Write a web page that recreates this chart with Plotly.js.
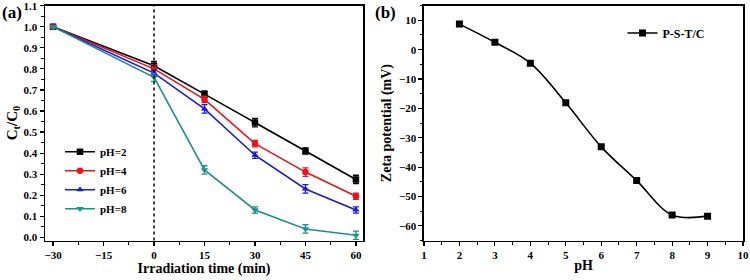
<!DOCTYPE html>
<html><head><meta charset="utf-8">
<script src="https://cdn.plot.ly/plotly-3.0.1.min.js"></script>
<style>html,body{margin:0;padding:0;background:#fff}#g{width:750px;height:280px}</style>
</head><body><div id="g"></div>
<script>
// Panel (a): photocatalytic degradation
const timeMin = [-30, 0, 15, 30, 45, 60];
const pH2 = [1.0, 0.815, 0.68, 0.545, 0.41, 0.275];
const pH4 = [1.0, 0.80, 0.655, 0.445, 0.31, 0.195];
const pH6 = [1.0, 0.78, 0.61, 0.39, 0.23, 0.13];
const pH8 = [1.0, 0.76, 0.32, 0.13, 0.04, 0.01];
const err2 = [0.005, 0.02, 0.015, 0.02, 0.015, 0.02];
const err4 = [0.005, 0.02, 0.015, 0.015, 0.02, 0.015];
const err6 = [0.005, 0.015, 0.02, 0.015, 0.02, 0.015];
const err8 = [0.005, 0.02, 0.02, 0.015, 0.02, 0.02];
const seriesNames = ["pH=2", "pH=4", "pH=6", "pH=8"];
const ctTicks = [0, 0.1, 0.2, 0.3, 0.4, 0.5, 0.6, 0.7, 0.8, 0.9, 1.0, 1.1];
const timeTicks = [-30, -15, 0, 15, 30, 45, 60];
// Panel (b): zeta potential
const pHvals = [2, 3, 4, 5, 6, 7, 8, 9];
const zeta = [8.7, 2.5, -4.6, -18.1, -33.1, -44.6, -56.3, -56.7];
const zetaName = "P-S-T/C";
const zetaTicks = [-60, -50, -40, -30, -20, -10, 0, 10];

const FONT = "Liberation Serif, Times New Roman, serif";
const colors = ["#000000", "#e8141c", "#1a1ad0", "#1f8f8c"];
const symbols = ["square", "circle", "triangle-up", "triangle-down"];
const ys = [pH2, pH4, pH6, pH8];
const errs = [err2, err4, err6, err8];

const traces = ys.map((y, i) => ({
  x: timeMin, y: y, name: seriesNames[i], type: "scatter", mode: "lines+markers",
  line: {color: colors[i], width: 1.6},
  marker: {symbol: symbols[i], size: 6.5, color: colors[i]},
  error_y: {type: "data", array: errs[i], visible: true, color: colors[i], thickness: 1.3, width: 3},
  xaxis: "x", yaxis: "y", legend: "legend"
}));
traces.push({
  x: pHvals, y: zeta, name: zetaName, type: "scatter", mode: "lines+markers",
  line: {color: "#000", width: 1.6, shape: "spline", smoothing: 1},
  marker: {symbol: "square", size: 7, color: "#000"},
  xaxis: "x2", yaxis: "y2", legend: "legend2"
});

const tickFont = {family: FONT, size: 11, color: "#000", weight: "bold"};
const axBase = {
  showline: true, linecolor: "#000", linewidth: 1.5, mirror: true,
  ticks: "outside", ticklen: 4, tickwidth: 1.2, tickcolor: "#000",
  showgrid: false, zeroline: false, tickfont: tickFont, ticklabeloverflow: "allow"
};

const layout = {
  width: 750, height: 280, margin: {l: 0, r: 0, t: 0, b: 0},
  paper_bgcolor: "#fff", plot_bgcolor: "#fff", showlegend: true,
  xaxis: Object.assign({}, axBase, {
    domain: [0.06, 0.484], range: [-32.4, 62.1], tickvals: timeTicks,
    minor: {dtick: 7.5, tick0: -30, ticks: "outside", ticklen: 2.5, tickcolor: "#000", tickwidth: 1},
    title: {text: "Irradiation time (min)", font: {family: FONT, size: 14, weight: "bold", color: "#000"}, standoff: 2},
    anchor: "y"
  }),
  yaxis: Object.assign({}, axBase, {
    domain: [0.141, 0.98], range: [-0.015, 1.1005], tickvals: ctTicks, tickformat: ".1f",
    minor: {dtick: 0.05, tick0: 0, ticks: "outside", ticklen: 2.5, tickcolor: "#000", tickwidth: 1},
    title: {text: "C<sub>t</sub>/C<sub>0</sub>", font: {family: FONT, size: 15, weight: "bold", color: "#000"}, standoff: 2},
    anchor: "x"
  }),
  xaxis2: Object.assign({}, axBase, {
    domain: [0.5653, 0.9907], range: [1, 10], dtick: 1,
    minor: {dtick: 0.5, ticks: "outside", ticklen: 2.5, tickcolor: "#000", tickwidth: 1},
    title: {text: "pH", font: {family: FONT, size: 14, weight: "bold", color: "#000"}, standoff: 0},
    anchor: "y2"
  }),
  yaxis2: Object.assign({}, axBase, {
    domain: [0.141, 0.98], range: [-65, 15], tickvals: zetaTicks,
    minor: {dtick: 5, tick0: 0, ticks: "outside", ticklen: 2.5, tickcolor: "#000", tickwidth: 1},
    title: {text: "Zeta potential (mV)", font: {family: FONT, size: 14, weight: "bold", color: "#000"}, standoff: 4},
    anchor: "x2"
  }),
  legend: {x: 0.08, y: 0.51, xanchor: "left", yanchor: "top", bgcolor: "rgba(0,0,0,0)",
    font: {family: FONT, size: 11, weight: "bold", color: "#000"}, tracegroupgap: 0, itemwidth: 30},
  legend2: {x: 0.83, y: 0.882, xanchor: "left", yanchor: "middle", bgcolor: "rgba(0,0,0,0)",
    font: {family: FONT, size: 12, weight: "bold", color: "#000"}, itemwidth: 30},
  shapes: [{type: "line", xref: "x", yref: "y domain", x0: 0, x1: 0, y0: 0, y1: 1,
    line: {color: "#000", width: 1.5, dash: "dot"}}],
  annotations: [
    {text: "(a)", xref: "paper", yref: "paper", x: 0.0, y: 0.955, xanchor: "left", yanchor: "middle",
      showarrow: false, font: {family: FONT, size: 17, weight: "bold", color: "#000"}},
    {text: "(b)", xref: "paper", yref: "paper", x: 0.497, y: 0.955, xanchor: "left", yanchor: "middle",
      showarrow: false, font: {family: FONT, size: 17, weight: "bold", color: "#000"}}
  ]
};
Plotly.newPlot("g", traces, layout, {staticPlot: true, displayModeBar: false});
</script></body></html>
